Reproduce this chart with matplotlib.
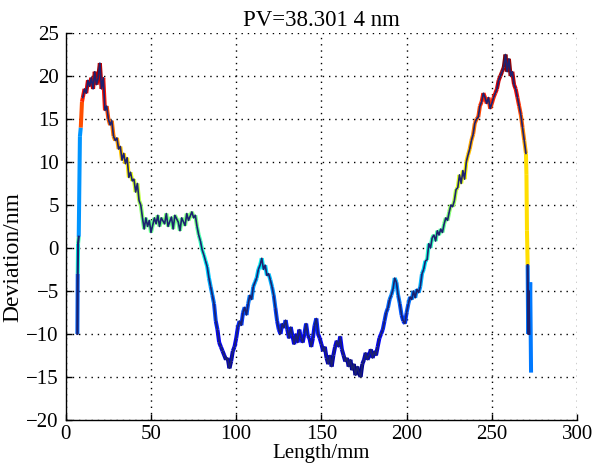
import numpy as np
import matplotlib
matplotlib.use("Agg")
import matplotlib.pyplot as plt
from matplotlib.collections import LineCollection
from matplotlib.colors import Normalize

# ---- data ----
length_mm = [6.8, 7.0, 7.2, 7.6, 8.3, 8.8, 9.5,
             10, 11, 12, 13, 14, 15, 16, 17, 18, 19, 20, 21, 22, 23, 24, 25, 26, 27, 28, 29,
             30, 31, 32, 33, 34, 35, 36, 37, 38, 39, 40, 41, 42, 43, 44, 45, 46, 47, 48, 49,
             50, 52, 53, 54, 55, 56, 58, 59, 60, 62, 63, 64, 66, 67, 68, 70, 71, 72, 74, 75,
             76, 77, 78, 79, 80, 81, 82, 83, 84, 85, 86, 87, 88, 89, 90, 91, 92, 93, 94, 95,
             96, 97, 98, 99, 100, 101, 102, 103, 104, 105, 106, 107, 108, 109, 110, 111, 112,
             113, 114, 115, 116, 117, 118, 119, 120, 121, 122, 123, 124, 125, 126, 127, 128,
             129, 130, 131, 132, 133, 134, 135, 136, 137, 138, 139, 140, 141, 142, 143, 144,
             145, 146, 147, 148, 149, 150, 151, 152, 153, 154, 155, 156, 157, 158, 159, 160,
             161, 162, 163, 164, 165, 166, 167, 168, 169, 170, 171, 172, 173, 174, 175, 176,
             177, 178, 179, 180, 181, 182, 183, 184, 185, 186, 187, 188, 189, 190, 191, 192,
             193, 194, 195, 196, 197, 198, 199, 200, 201, 202, 203, 204, 205, 206, 207, 208,
             209, 210, 211, 212, 213, 214, 215, 216, 217, 218, 219, 220, 221, 222, 223, 224,
             225, 226, 227, 228, 229, 230, 231, 232, 233, 234, 235, 236, 237, 238, 239, 240,
             241, 242, 243, 244, 245, 246, 247, 248, 249, 250, 251, 252, 253, 254, 255, 256,
             257, 258, 259, 260, 261, 262, 263, 264, 265, 266, 267, 268, 269, 270,
             270.3, 270.6, 271.0, 271.3, 271.6, 272.0, 272.5, 273.0]
deviation_nm = [-10, -3, 0.5, 1.3, 13, 14, 17,
                17.5, 18.5, 18, 19.5, 18.8, 19.8, 18.5, 20.5, 19, 19.8, 21.5, 18.5, 19.8, 16, 16.5, 15, 14.3, 14.8, 13, 12.5,
                12.8, 11.5, 11.8, 10.2, 11, 9.8, 10.5, 8.2, 8.8, 7.8, 8, 6.5, 7.5, 5.5, 5, 3.5, 2.2, 3.5, 2.5, 3.2,
                1.8, 3.5, 2.8, 3.8, 2.5, 3.5, 2.8, 4, 2.5, 3.6, 2.2, 3.8, 3, 2, 3.5, 2.6, 4, 3.2, 4.2, 3.5,
                3.8, 2.5, 1.5, 0.8, -0.2, -0.8, -1.5, -2.2, -3.5, -4.5, -5.5, -6.5, -8.5, -9.5, -11, -11.5, -12, -12.5, -13, -12.8,
                -14, -13.2, -12, -11.5, -10.5, -9.2, -8.5, -9, -7.5, -6.9, -7.8, -6.5, -5.5, -6, -4.5, -4, -3.5,
                -2.5, -2, -1.2, -2.5, -2, -3.2, -3, -3.7, -4.5, -5.5, -7, -8.5, -9.5, -10, -8.8, -9.3,
                -8.4, -9.5, -10.5, -9.2, -10.2, -11.2, -10, -11, -9.5, -10.5, -11, -10, -8.8, -10.2, -10.5, -11.5,
                -10.5, -9, -8.2, -10, -10.5, -11.2, -12, -11.5, -12.8, -13.5, -12.5, -13.8, -12.5, -11.5, -10.8, -11.5,
                -10.3, -11.8, -12.5, -13.2, -12.8, -13.8, -13, -14.2, -13.5, -14.8, -13.8, -14.5, -15, -13.5, -13, -12.2,
                -13, -12.5, -11.8, -12.8, -12, -12.5, -11.5, -10.5, -10, -9.5, -8.5, -7.5, -7, -6, -5.5, -4.8,
                -3.5, -4, -5.5, -6.5, -7.8, -8.5, -8.8, -7.5, -6.5, -5.7, -6, -5, -5.8, -4.8, -5.2, -4.5,
                -3, -2.5, -1.5, -1.4, 0.5, 0, 1.2, 1.5, 0.8, 2, 1.5, 2.2, 1.8, 2.8, 3.5, 3.2,
                4.2, 5, 4.8, 5.5, 6.8, 7, 8.5, 7.5, 9, 8, 10, 10.8, 11.5, 12.5, 13.2, 14.5,
                15, 15.2, 16.5, 17, 18, 17.5, 16.8, 17.5, 16.2, 16.8, 17.5, 18, 18.5, 19.5, 20, 20.5,
                21, 22.5, 20.5, 22, 20, 20.5, 19, 18.5, 17.5, 16.5, 15.5, 14, 12.5, 11,
                8.5, 2, -2, -10, -5, -10, -4, -14.5]

# colour level (nm on the jet scale) seen on the steep edge segments
edge_segment_index = [3, 4, 261, 262, 263, 264, 265, 266, 267, 268]
edge_segment_level = [-5, -5, 10, 10, 10, -6, -6, -6, -6, -6]

x_ticks = [0, 50, 100, 150, 200, 250, 300]
y_ticks = [-20, -15, -10, -5, 0, 5, 10, 15, 20, 25]
title_text = "PV=38.301 4 nm"

x = np.array(length_mm, dtype=float)
y = np.array(deviation_nm, dtype=float)

plt.rcParams['font.family'] = ['Liberation Serif', 'DejaVu Serif']

fig = plt.figure(figsize=(5.98, 4.65), dpi=100)
ax = fig.add_axes([0.110, 0.097, 0.855, 0.832])

# colour-coded profile (jet by deviation)
pts = np.column_stack([x, y]).reshape(-1, 1, 2)
segs = np.concatenate([pts[:-1], pts[1:]], axis=1)
levels = (y[:-1] + y[1:]) / 2
for i, v in zip(edge_segment_index, edge_segment_level):
    levels[i] = v
norm = Normalize(vmin=-15, vmax=22)
lc = LineCollection(segs, cmap='jet', norm=norm, linewidths=2.9, zorder=3)
lc.set_array(levels)
ax.add_collection(lc)

# dark raw trace over selected portions
navy = '#1c2170'
ax.plot(x[0:4], y[0:4], color=navy, lw=1.6, zorder=4)
ax.plot(x[7:-8], y[7:-8], color=navy, lw=1.2, zorder=4)
ax.plot(x[-6:-2], y[-6:-2], color=navy, lw=1.6, zorder=4)

ax.set_xlim(0, 300)
ax.set_ylim(-20, 25)
ax.set_xticks(x_ticks)
ax.set_yticks(y_ticks)
ax.grid(True, color='black', linestyle=(0, (1, 3.5)), linewidth=1.0)
for s in ['top', 'right']:
    ax.spines[s].set_visible(False)
for s in ['left', 'bottom']:
    ax.spines[s].set_linewidth(1.0)
ax.tick_params(direction='in', length=4, width=1, labelsize=15)
ax.tick_params(axis='x', pad=4)
ax.tick_params(axis='y', pad=5)
ax.set_xlabel('Length/mm', fontsize=15, labelpad=0)
ax.set_ylabel('Deviation/nm', fontsize=17)
ax.yaxis.set_label_coords(-0.083, 0.42)
ax.set_title(title_text, fontsize=16.5, pad=5)

fig.savefig('out.png', dpi=100)
